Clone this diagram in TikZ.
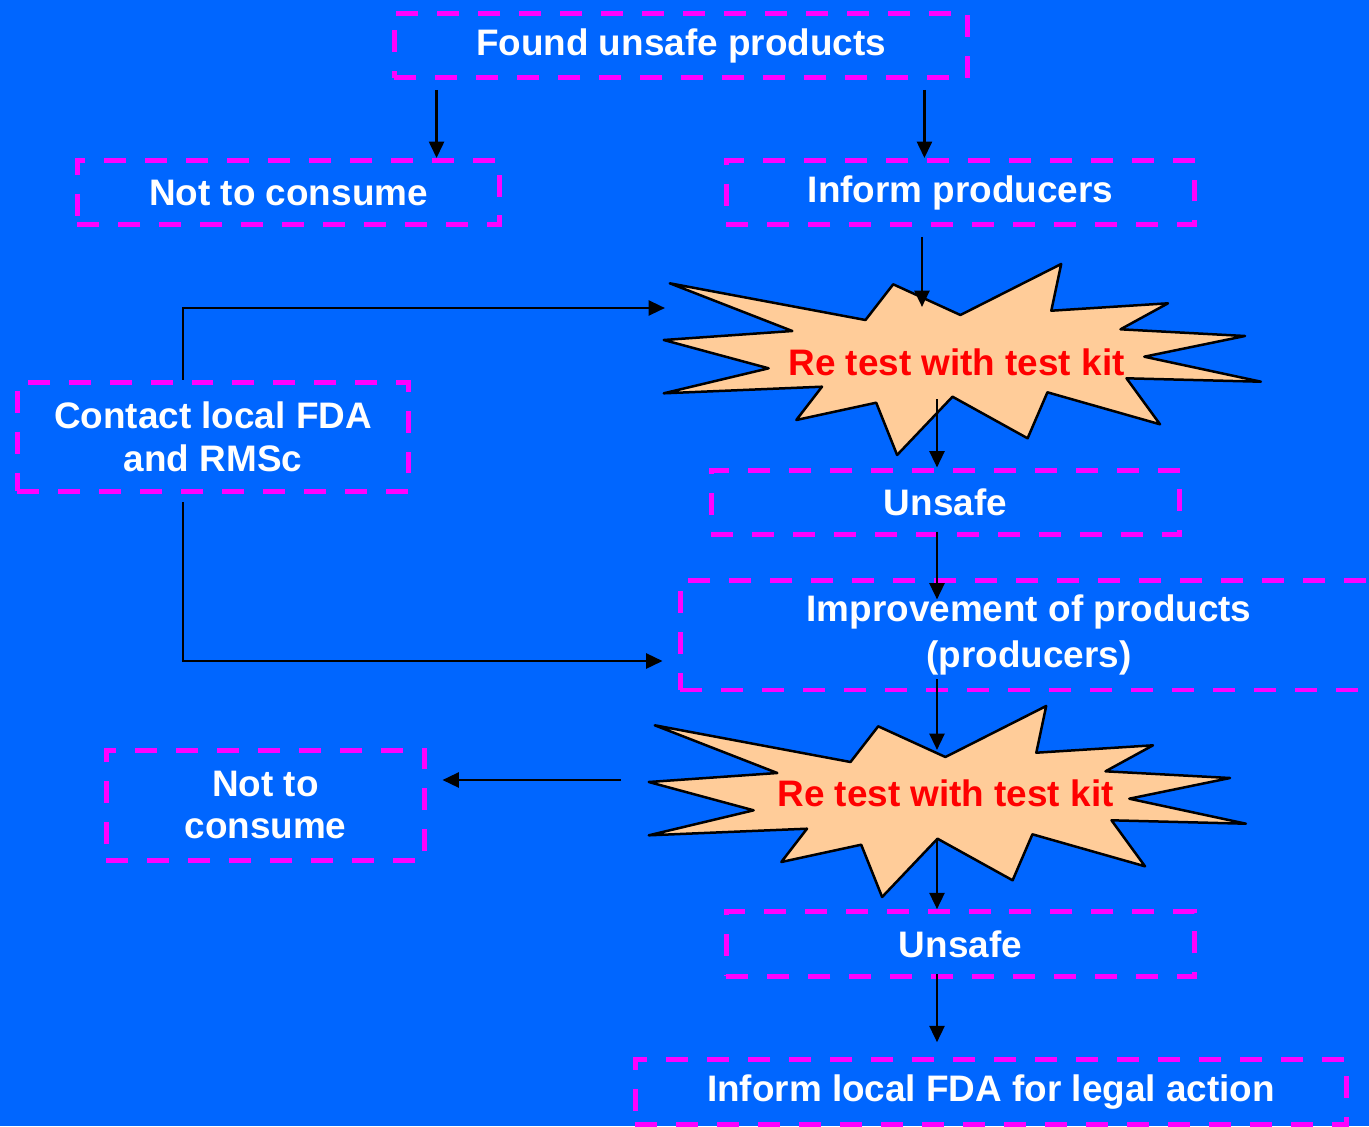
\documentclass[tikz,border=0pt]{standalone}
\usepackage{fontspec}
\setmainfont{Liberation Sans}
\usetikzlibrary{arrows.meta,calc}
\definecolor{bgblue}{RGB}{0,102,255}
\definecolor{peach}{RGB}{255,204,153}
\definecolor{mag}{RGB}{255,0,255}
\definecolor{redtxt}{RGB}{255,0,0}
\tikzset{
  boxsty/.style={draw=mag, line width=0.1cm, dash pattern=on 0.44cm off 0.38cm,
    text=white, font=\bfseries\fontsize{21}{24}\selectfont, align=center,
    inner sep=0pt, rectangle},
  arr/.style={line width=0.055cm, draw=black, -{Triangle[length=0.33cm,width=0.3cm]}},
  starsty/.style={draw=black, line width=0.05cm, fill=peach, line join=round},
  startxt/.style={text=redtxt, font=\bfseries\fontsize{21}{24}\selectfont, inner sep=0pt},
  starshape/.pic={
    \draw[starsty] (669.8,283.3) -- (865.5,320) -- (893.2,284.3) -- (960.4,315)
      -- (1061.2,264) -- (1051.3,310.7) -- (1168,303.3) -- (1120.5,329.3)
      -- (1245,336) -- (1144.3,356.7) -- (1260.9,381.7) -- (1126.5,378.3)
      -- (1160,424.3) -- (1047.4,392.3) -- (1027.6,438.3) -- (952.5,396.7)
      -- (897.1,455) -- (876.2,402.7) -- (796.3,420) -- (822,386.7)
      -- (663.8,393.3) -- (768.6,368.3) -- (663.8,340) -- (792.3,331) -- cycle;
  }
}
\begin{document}
\begin{tikzpicture}[x=0.02cm,y=-0.02cm]
\useasboundingbox (0,0) rectangle (1369,1126);
\fill[bgblue] (0,0) rectangle (1369,1126);
\clip (0,0) rectangle (1369,1126);

% starbursts
\pic (s1) at (0,0) {starshape};
\pic (s2) at (-15,442) {starshape};
\node[startxt] (st1) at (956.5,362) {Re test with test kit};
\node[startxt] (st2) at (945.5,793.5) {Re test with test kit};

% boxes
\node[boxsty, minimum width=11.48cm, minimum height=1.3cm] (found) at (681,45.5) {Found unsafe products};
\node[boxsty, minimum width=8.46cm, minimum height=1.28cm] (nc1) at (288.5,192.5) {Not to consume};
\node[boxsty, minimum width=9.38cm, minimum height=1.28cm] (infp) at (960.5,192.5) {Inform producers};
\node[boxsty, minimum width=7.84cm, minimum height=2.19cm] (contact) at (213,436.75) {Contact local FDA\\and RMSc};
\node[boxsty, minimum width=9.38cm, minimum height=1.28cm] (u1) at (945.5,502) {Unsafe};
\node[boxsty, minimum width=13.96cm, minimum height=2.2cm, font=\bfseries\fontsize{21}{26}\selectfont] (improve) at (1029,635) {Improvement of products\\(producers)};
\node[boxsty, minimum width=6.38cm, minimum height=2.2cm] (nc2) at (265.5,805) {Not to\\consume};
\node[boxsty, minimum width=9.38cm, minimum height=1.29cm] (u2) at (960.5,944) {Unsafe};
\node[boxsty, minimum width=14.23cm, minimum height=1.29cm] (legal) at (991,1092) {Inform local FDA for legal action};

% free ends on the starbursts
\coordinate (s1top) at (922,307);
\coordinate (s1bot) at (937,399);
\coordinate (s1left) at (665,308);
\coordinate (s2top) at (937,750);
\coordinate (s2bot) at (937,839);
\coordinate (s2left) at (621,780);

% connectors
\coordinate (a1s) at ($(found.south west)+(45,9.5)$);
\coordinate (a2s) at ($(found.south east)+(-46,9.5)$);
\draw[arr] (a1s) -- (a1s |- nc1.north);
\draw[arr] (a2s) -- (a2s |- infp.north);
\draw[arr] ($(infp.south)+(-38.5,10)$) -- (s1top);
\draw[arr] (s1bot) -- (s1bot |- u1.north);
\draw[arr] ($(u1.south)+(-8.5,-5)$) -- ($(improve.north)+(-92,22)$);
\draw[arr] ($(improve.south)+(-92,-13)$) -- (s2top);
\draw[arr] (s2bot) -- (s2bot |- u2.north);
\draw[arr] ($(u2.south)+(-23.5,-4.5)$) -- ($(legal.north)+(-54,-15)$);
\draw[arr] (s2left) -- ($(s2left -| nc2.east)+(15,0)$);
\draw[arr] ($(contact.north)+(-30,0)$) |- (s1left);
\draw[arr] ($(contact.south)+(-30,8)$) |- ($(improve.west)+(-15,26)$);
\end{tikzpicture}
\end{document}
